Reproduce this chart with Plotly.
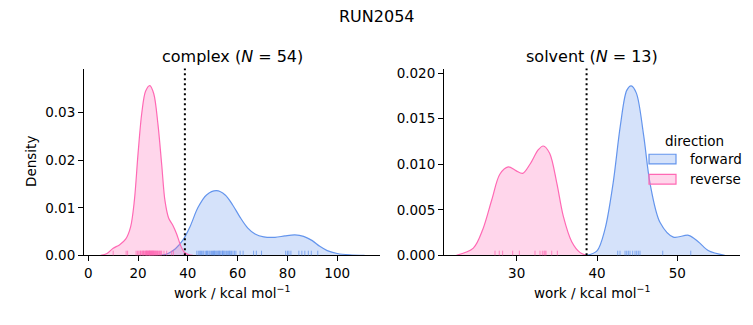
import plotly.graph_objects as go

# ---------------- data ----------------
suptitle = "RUN2054"
panels = ["complex", "solvent"]
panel_n = [54, 13]
threshold = [38.8, 38.7]

# KDE curves (work in kcal/mol, density)
cx_fwd_x = [29, 32, 35, 38, 41, 44, 47.5, 51.5, 55, 58, 61, 64, 67, 70.5, 75, 79, 83, 86.5, 90, 93, 96, 100, 105, 111]
cx_fwd_d = [0, 0.0004, 0.0014, 0.0032, 0.0062, 0.0100, 0.0127, 0.0136, 0.0127, 0.0106, 0.0080, 0.0058, 0.0045, 0.0039,
            0.0038, 0.0041, 0.0043, 0.0040, 0.0031, 0.0019, 0.0010, 0.0004, 0.0001, 0]
cx_rev_x = [5, 7.5, 10, 12.5, 15, 17, 18.5, 20, 21.5, 23, 24.7, 26.3, 28, 29.5, 30.8, 32.3, 34, 35.5, 37, 38.5, 40.5, 42]
cx_rev_d = [0, 0.0004, 0.0015, 0.0022, 0.0034, 0.0060, 0.0115, 0.0215, 0.0300, 0.0345, 0.0357, 0.0340, 0.0275, 0.0190,
            0.0115, 0.0078, 0.0063, 0.0045, 0.0022, 0.0007, 0.0001, 0]
sv_fwd_x = [38.7, 40.0, 41.0, 42.0, 42.9, 43.7, 44.25, 44.9, 45.8, 46.6, 47.85, 49.5, 51.4, 52.6, 53.9, 55.9]
sv_fwd_d = [0, 0.0005, 0.0029, 0.0079, 0.0142, 0.0181, 0.0186, 0.0178, 0.0132, 0.0079, 0.0036, 0.0020, 0.0022, 0.0015,
            0.0005, 0]
sv_rev_x = [22.5, 24.6, 25.8, 26.9, 27.9, 28.95, 29.9, 30.75, 31.65, 32.7, 33.3, 34.1, 35.0, 35.8, 36.85, 37.9, 38.7]
sv_rev_d = [0, 0.0008, 0.0029, 0.0061, 0.0089, 0.0097, 0.0093, 0.0090, 0.0100, 0.0116, 0.0120, 0.0112, 0.0079, 0.0043,
            0.0015, 0.0003, 0]

# rug samples
cx_fwd_rug = [43.6, 44.2, 44.8, 45.0, 45.5, 46.0, 46.4, 47.0, 47.5, 47.8, 48.1, 48.6, 49.0, 49.5, 49.9, 50.3, 50.6, 50.8,
              51.2, 51.6, 52.0, 52.4, 52.6, 52.9, 53.3, 53.8, 54.0, 54.2, 54.6, 55.0, 55.5, 56.0, 56.4, 56.8, 57.0, 57.5,
              58.1, 58.7, 59.3, 61.0, 62.2, 66.4, 67.5, 69.6, 79.3, 80.0, 80.6, 81.4, 84.6, 85.8, 87.0, 88.4, 89.6, 92.2]
cx_rev_rug = [10.0, 15.2, 15.8, 19.2, 19.8, 20.3, 20.8, 21.0, 21.2, 21.6, 21.9, 22.0, 22.2, 22.5, 22.8, 23.0, 23.2, 23.4,
              23.5, 23.6, 23.8, 24.0, 24.2, 24.4, 24.5, 24.6, 24.7, 24.9, 25.0, 25.2, 25.4, 25.5, 25.7, 25.9, 26.0, 26.1,
              26.3, 26.5, 26.7, 26.9, 27.1, 27.3, 27.5, 27.8, 28.0, 28.3, 28.6, 28.9, 29.2, 29.5, 30.4, 31.5, 33.5, 34.2]
sv_fwd_rug = [42.58, 42.86, 43.49, 43.70, 43.90, 44.11, 44.44, 44.73, 44.94, 45.14, 45.35, 48.18, 51.67]
sv_rev_rug = [27.30, 27.83, 28.25, 29.50, 30.33, 32.28, 32.90, 33.19, 33.40, 33.52, 33.65, 34.36, 35.06]

x_ticks = [[0, 20, 40, 60, 80, 100], [30, 40, 50]]
y_ticks = [[0, 0.01, 0.02, 0.03], [0, 0.005, 0.010, 0.015, 0.020]]
y_fmt = [".2f", ".3f"]
x_ranges = [[-1.73, 117.2], [20.95, 57.8]]
y_ranges = [[0, 0.0393], [0, 0.0205]]

directions = ["forward", "reverse"]
colors = {"forward": "#6495ED", "reverse": "#FF69B4"}
fills = {"forward": "rgba(100,149,237,0.27)", "reverse": "rgba(255,105,180,0.27)"}

curves = [
    {"forward": (cx_fwd_x, cx_fwd_d), "reverse": (cx_rev_x, cx_rev_d)},
    {"forward": (sv_fwd_x, sv_fwd_d), "reverse": (sv_rev_x, sv_rev_d)},
]
rugs = [
    {"forward": cx_fwd_rug, "reverse": cx_rev_rug},
    {"forward": sv_fwd_rug, "reverse": sv_rev_rug},
]

# ---------------- figure ----------------
W, H = 753, 325
FONT = "DejaVu Sans"
x_domains = [[84 / W, 380 / W], [444 / W, 740 / W]]
y_domain = [64 / H, 258 / H]

fig = go.Figure()
shapes = []
annotations = []

for i in range(2):
    xa = "x" if i == 0 else "x2"
    ya = "y" if i == 0 else "y2"
    for d in directions:
        xs, ds = curves[i][d]
        fig.add_trace(go.Scatter(
            x=xs, y=ds, mode="lines", xaxis=xa, yaxis=ya,
            line=dict(color=colors[d], width=1.2, shape="spline", smoothing=0.9),
            fill="tozeroy", fillcolor=fills[d], showlegend=False, hoverinfo="skip",
        ))
        for v in rugs[i][d]:
            shapes.append(dict(type="line", xref=xa, yref=ya + " domain", x0=v, x1=v, y0=0, y1=0.025,
                               line=dict(color=colors[d], width=1), opacity=0.75))
    shapes.append(dict(type="line", xref=xa, yref=ya + " domain", x0=threshold[i], x1=threshold[i], y0=0, y1=1,
                       line=dict(color="black", width=2, dash="2px,3px")))
    xc = (x_domains[i][0] + x_domains[i][1]) / 2
    annotations.append(dict(text=f"{panels[i]} (<i>N</i> = {panel_n[i]})", x=xc, y=(H - 54) / H,
                            xref="paper", yref="paper", showarrow=False, xanchor="center", yanchor="middle",
                            font=dict(size=16, color="black", family=FONT)))
    annotations.append(dict(text="work / kcal mol<sup>−1</sup>", x=xc, y=(H - 299) / H,
                            xref="paper", yref="paper", showarrow=False, xanchor="center", yanchor="middle",
                            font=dict(size=13.5, color="black", family=FONT)))

annotations.append(dict(text=suptitle, x=0.5, y=(H - 13) / H, xref="paper", yref="paper", showarrow=False,
                        xanchor="center", yanchor="middle", font=dict(size=16, color="black", family=FONT)))
annotations.append(dict(text="Density", x=31 / W, y=(H - 164) / H, xref="paper", yref="paper", showarrow=False,
                        textangle=-90, xanchor="center", yanchor="middle",
                        font=dict(size=13.5, color="black", family=FONT)))

# legend (drawn manually to mimic matplotlib's patch legend)
annotations.append(dict(text="direction", x=694 / W, y=(H - 142) / H, xref="paper", yref="paper", showarrow=False,
                        xanchor="center", yanchor="middle", font=dict(size=13.5, color="black", family=FONT)))
leg_y = [161, 182]
for d, yy in zip(directions, leg_y):
    shapes.append(dict(type="rect", xref="paper", yref="paper", x0=649 / W, x1=676 / W,
                       y0=(H - yy - 5) / H, y1=(H - yy + 5) / H,
                       fillcolor=fills[d], line=dict(color=colors[d], width=1.2)))
    annotations.append(dict(text=d, x=688 / W, y=(H - yy) / H, xref="paper", yref="paper", showarrow=False,
                            xanchor="left", yanchor="middle", font=dict(size=13.5, color="black", family=FONT)))

axis_common = dict(showgrid=False, zeroline=False, showline=True, linecolor="black", linewidth=1,
                   ticks="outside", ticklen=5, tickwidth=1, tickcolor="black",
                   tickfont=dict(size=13.5, color="black", family=FONT))

fig.update_layout(
    width=W, height=H, margin=dict(l=0, r=0, t=0, b=0),
    paper_bgcolor="white", plot_bgcolor="white", showlegend=False,
    xaxis=dict(domain=x_domains[0], range=x_ranges[0], tickvals=x_ticks[0], anchor="y", **axis_common),
    yaxis=dict(domain=y_domain, range=y_ranges[0], tickvals=y_ticks[0], tickformat=y_fmt[0], anchor="x",
               **axis_common),
    xaxis2=dict(domain=x_domains[1], range=x_ranges[1], tickvals=x_ticks[1], anchor="y2", **axis_common),
    yaxis2=dict(domain=y_domain, range=y_ranges[1], tickvals=y_ticks[1], tickformat=y_fmt[1], anchor="x2",
                **axis_common),
    shapes=shapes, annotations=annotations,
    font=dict(family=FONT, color="black"),
)

fig.write_html("out.html")
